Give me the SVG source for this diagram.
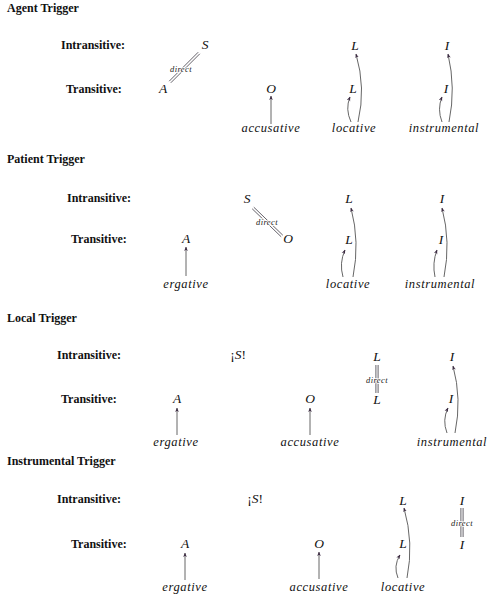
<svg xmlns="http://www.w3.org/2000/svg" width="504" height="600" viewBox="0 0 504 600">
<style>
.h{font-family:"Liberation Serif",serif;font-weight:bold;font-size:12px;fill:#111}
.m{font-family:"Liberation Serif",serif;font-style:italic;font-size:13.5px;fill:#111;text-anchor:middle}
.c{font-family:"Liberation Serif",serif;font-style:italic;font-size:12.5px;fill:#111;text-anchor:middle;letter-spacing:0.6px}
.d{font-family:"Liberation Serif",serif;font-style:italic;font-size:8.5px;fill:#222;text-anchor:middle;letter-spacing:0.4px;stroke:#fff;stroke-width:1.5px;paint-order:stroke}
.a{fill:none;stroke:#555;stroke-width:0.9;marker-end:url(#ah)}
.db{stroke:#3d3a44;stroke-width:0.8;fill:none}
</style>
<defs>
<marker id="ah" viewBox="0 0 10 10" refX="9" refY="5" markerWidth="4.5" markerHeight="4.5" markerUnits="userSpaceOnUse" orient="auto">
<path d="M0,1 L10,5 L0,9 L3,5 Z" fill="#3a2840"/>
</marker>
</defs>
<rect width="504" height="600" fill="#fff"/>

<g id="agent">
<text class="h" x="7" y="12">Agent Trigger</text>
<text class="h" x="61" y="49">Intransitive:</text>
<text class="h" x="66" y="93">Transitive:</text>
<g id="agent-S"><text class="m" x="205" y="49">S</text></g>
<g id="agent-A"><text class="m" x="163" y="93">A</text></g>
<g id="agent-O"><text class="m" x="271" y="93">O</text></g>
<g id="agent-acc"><text class="c" x="271" y="132">accusative</text></g>
<g id="agent-L1"><text class="m" x="355" y="50">L</text></g>
<g id="agent-L2"><text class="m" x="353" y="93">L</text></g>
<g id="agent-loc"><text class="c" x="354" y="132">locative</text></g>
<g id="agent-I1"><text class="m" x="447" y="50">I</text></g>
<g id="agent-I2"><text class="m" x="446" y="93">I</text></g>
<g id="agent-ins"><text class="c" x="444" y="132">instrumental</text></g>
</g>

<g id="patient">
<text class="h" x="7" y="163">Patient Trigger</text>
<text class="h" x="67" y="202">Intransitive:</text>
<text class="h" x="71" y="243">Transitive:</text>
<g id="patient-S"><text class="m" x="247" y="203">S</text></g>
<g id="patient-A"><text class="m" x="186" y="243">A</text></g>
<g id="patient-O"><text class="m" x="288" y="243">O</text></g>
<g id="patient-erg"><text class="c" x="186" y="288">ergative</text></g>
<g id="patient-L1"><text class="m" x="349" y="203">L</text></g>
<g id="patient-L2"><text class="m" x="349" y="244">L</text></g>
<g id="patient-loc"><text class="c" x="348" y="288">locative</text></g>
<g id="patient-I1"><text class="m" x="442" y="203">I</text></g>
<g id="patient-I2"><text class="m" x="441" y="244">I</text></g>
<g id="patient-ins"><text class="c" x="440" y="288">instrumental</text></g>
</g>

<g id="local">
<text class="h" x="7" y="322">Local Trigger</text>
<text class="h" x="57" y="359">Intransitive:</text>
<text class="h" x="61" y="403">Transitive:</text>
<g id="local-S"><text class="m" x="238" y="359"><tspan font-style="normal">¡</tspan>S<tspan font-style="normal">!</tspan></text></g>
<g id="local-A"><text class="m" x="177" y="403">A</text></g>
<g id="local-O"><text class="m" x="310" y="403">O</text></g>
<g id="local-erg"><text class="c" x="176" y="446">ergative</text></g>
<g id="local-acc"><text class="c" x="310" y="446">accusative</text></g>
<g id="local-L1"><text class="m" x="377" y="361">L</text></g>
<g id="local-L2"><text class="m" x="377" y="404">L</text></g>
<g id="local-I1"><text class="m" x="452" y="361">I</text></g>
<g id="local-I2"><text class="m" x="451" y="403">I</text></g>
<g id="local-ins"><text class="c" x="452" y="446">instrumental</text></g>
</g>

<g id="instrumental">
<text class="h" x="7" y="465">Instrumental Trigger</text>
<text class="h" x="57" y="503">Intransitive:</text>
<text class="h" x="71" y="548">Transitive:</text>
<g id="instr-S"><text class="m" x="255" y="503"><tspan font-style="normal">¡</tspan>S<tspan font-style="normal">!</tspan></text></g>
<g id="instr-A"><text class="m" x="185" y="548">A</text></g>
<g id="instr-O"><text class="m" x="319" y="548">O</text></g>
<g id="instr-erg"><text class="c" x="185" y="591">ergative</text></g>
<g id="instr-acc"><text class="c" x="319" y="591">accusative</text></g>
<g id="instr-L1"><text class="m" x="403" y="505">L</text></g>
<g id="instr-L2"><text class="m" x="403" y="548">L</text></g>
<g id="instr-loc"><text class="c" x="403" y="591">locative</text></g>
<g id="instr-I1"><text class="m" x="462" y="505">I</text></g>
<g id="instr-I2"><text class="m" x="462" y="549">I</text></g>
</g>

<g id="connectors">
<!-- direct double lines -->
<path class="db" d="M169.2,81.2 L198.2,52.2 M170.8,82.8 L199.8,53.8"/>
<text class="d" x="181" y="72">direct</text>
<path class="db" d="M252.2,208.8 L281.2,236.8 M253.8,207.2 L282.8,235.2"/>
<text class="d" x="267" y="225">direct</text>
<path class="db" d="M375.9,365 L375.9,393 M378.1,365 L378.1,393"/>
<text class="d" x="377" y="383">direct</text>
<path class="db" d="M460.9,508 L460.9,537 M463.1,508 L463.1,537"/>
<text class="d" x="462" y="526">direct</text>

<!-- straight arrows -->
<path class="a" d="M271,124 L271,96"/>
<path class="a" d="M186,276 L186,247"/>
<path class="a" d="M177,435 L177,408"/>
<path class="a" d="M310,435 L310,408"/>
<path class="a" d="M185,580 L185,553"/>
<path class="a" d="M319,579 L319,552"/>

<!-- curved arrows -->
<path class="a" d="M358,122 Q366,88 356,54"/>
<path class="a" d="M351,122 Q345,109 350,97"/>
<path class="a" d="M449,122 Q456,88 448,54"/>
<path class="a" d="M442,122 Q437,109 442,97"/>

<path class="a" d="M353,277 Q360,242 351,208"/>
<path class="a" d="M343,277 Q339,263 345,250"/>
<path class="a" d="M444,277 Q451,242 442,208"/>
<path class="a" d="M435,277 Q432,263 437,250"/>

<path class="a" d="M455,433 Q462,399 453,366"/>
<path class="a" d="M447,433 Q442,420 448,408"/>

<path class="a" d="M407,578 Q414,543 404,508"/>
<path class="a" d="M398,578 Q393,566 400,555"/>
</g>
</svg>
